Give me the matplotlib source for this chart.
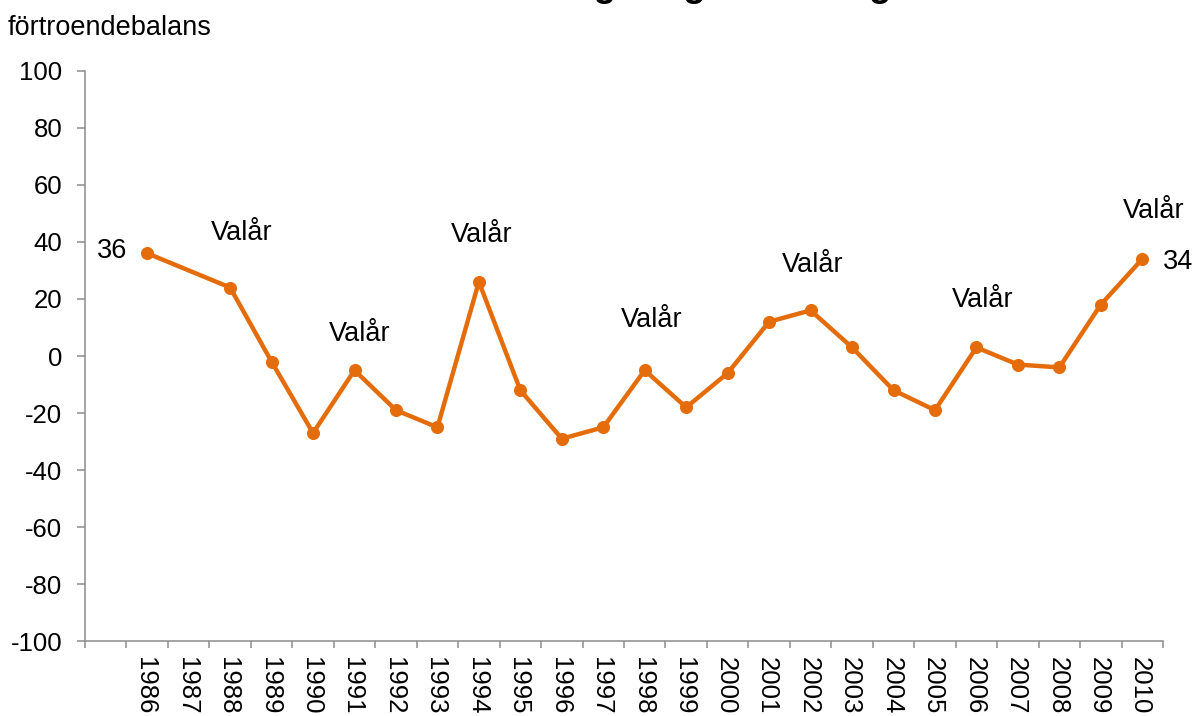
import numpy as np
import matplotlib
matplotlib.use('Agg')
import matplotlib.pyplot as plt

plt.rcParams['font.family'] = ['Liberation Sans', 'DejaVu Sans']

# Data (1987 has no value, line is drawn across it)
years = list(range(1986, 2011))
balans = [36, np.nan, 24, -2, -27, -5, -19, -25, 26, -12, -29, -25, -5,
          -18, -6, 12, 16, 3, -12, -19, 3, -3, -4, 18, 34]
valar = [1988, 1991, 1994, 1998, 2002, 2006, 2010]
yticks = list(range(-100, 101, 20))

orange = '#E46C0A'
grey = '#8C8C8C'
fs = 18.5      # tick labels
fs_lab = 19.5  # data labels / axis title

fig = plt.figure(figsize=(11.96, 7.16), dpi=100)
ax = fig.add_axes([85/1196, 1 - 641.3/716, (1163 - 85)/1196, (641.3 - 70.7)/716])

x = np.arange(len(years))
y = np.array(balans, dtype=float)
ok = ~np.isnan(y)
ax.plot(x[ok], y[ok], color=orange, lw=3.2, marker='o', ms=8.4, zorder=3)

# "Valår" labels above election years (pixel offsets from the point)
label_off = {1988: (12, 48), 1991: (5, 29), 1994: (3, 40), 1998: (7, 43),
             2002: (2, 38), 2006: (6, 40), 2010: (11, 41)}
for yr in valar:
    i = years.index(yr)
    dx, dy = label_off[yr]
    ax.annotate('Valår', (x[i], y[i]), xytext=(dx, dy), textcoords='offset pixels',
                ha='center', va='baseline', fontsize=fs_lab)

# first and last values
ax.annotate('%d' % y[0], (x[0], y[0]), xytext=(-20, -5), textcoords='offset pixels',
            ha='right', va='baseline', fontsize=fs_lab)
ax.annotate('%d' % y[-1], (x[-1], y[-1]), xytext=(21, -10), textcoords='offset pixels',
            ha='left', va='baseline', fontsize=fs_lab)

ax.set_xlim(-1.5, len(years) - 0.5)
ax.set_ylim(-100, 100)

# category axis: ticks between categories, labels in the middle
ax.set_xticks(np.arange(-1.5, len(years)), minor=False)
ax.set_xticklabels([])
ax.set_xticks(x - 0.05, minor=True)
ax.set_xticklabels([str(v) for v in years], minor=True, rotation=270, fontsize=fs)
ax.tick_params(axis='x', which='minor', length=0, pad=11.5)
ax.tick_params(axis='x', which='major', length=5, width=1.1, color=grey, direction='out')

ax.set_yticks(yticks)
ax.set_yticklabels([str(v) for v in yticks], fontsize=fs)
ax.tick_params(axis='y', length=5.8, width=1.1, color=grey, direction='out', pad=10.5)

for s in ['top', 'right']:
    ax.spines[s].set_visible(False)
for s in ['left', 'bottom']:
    ax.spines[s].set_color(grey)
    ax.spines[s].set_linewidth(1.1)

fig.text(8/1196, 1 - 35/716, 'förtroendebalans', ha='left', va='baseline', fontsize=fs_lab)
# title sits mostly above the visible area, only descenders show
fig.text(296/1196, 1 + 4/716, 'Förtroende för regeringen i Sverige', ha='left',
         va='baseline', fontsize=26.5, fontweight='bold')

fig.savefig('out.png', dpi=100, facecolor='white')
